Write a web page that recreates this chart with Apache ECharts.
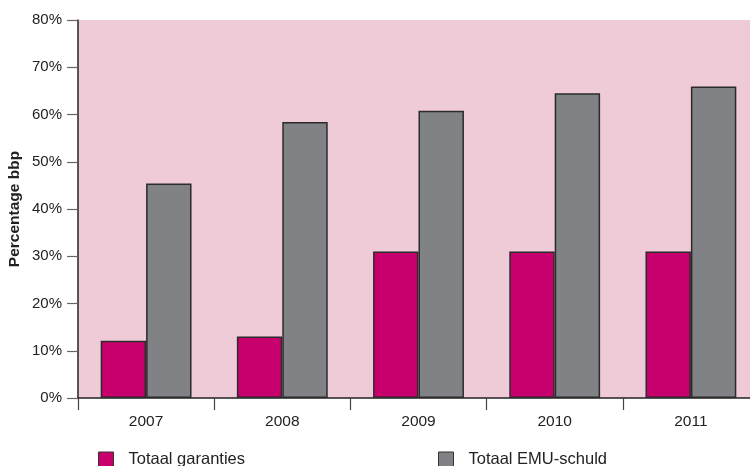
<!DOCTYPE html>
<html>
<head>
<meta charset="utf-8">
<script src="https://cdn.jsdelivr.net/npm/echarts@6/dist/echarts.min.js"></script>
<style>
  html, body { margin: 0; padding: 0; background: #ffffff; overflow: hidden; }
  #chart { width: 750px; height: 466px; }
</style>
</head>
<body>
<div id="chart"></div>
<script>
// Jaren op de categorie-as
const years = ['2007', '2008', '2009', '2010', '2011'];
// Totaal garanties, % bbp
const garanties = [12.1, 13.0, 31.0, 31.0, 31.0];
// Totaal EMU-schuld, % bbp
const emuSchuld = [45.4, 58.4, 60.8, 64.5, 65.9];
// Ticklabels van de y-as
const yTicks = [0, 10, 20, 30, 40, 50, 60, 70, 80];

const seriesNames = ['Totaal garanties', 'Totaal EMU-schuld'];
const pink = '#C8006E';
const grey = '#818286';
const border = '#2b2b2b';

const legendBase = {
  top: 451, padding: 0, icon: 'rect',
  itemWidth: 15, itemHeight: 15,
  itemStyle: { borderColor: '#333', borderWidth: 1 },
  textStyle: { fontSize: 16.5, color: '#222', padding: [0, 0, 0, 10] }
};

const chart = echarts.init(document.getElementById('chart'));
chart.setOption({
  animation: false,
  backgroundColor: '#ffffff',
  textStyle: { fontFamily: 'Liberation Sans, Arial, sans-serif' },
  grid: {
    left: 78, right: -9, top: 20, bottom: 68,
    containLabel: false,
    outerBoundsMode: 'none',
    show: true, backgroundColor: '#EFCAD7', borderWidth: 0
  },
  legend: [
    Object.assign({ data: [seriesNames[0]], left: 98 }, legendBase),
    Object.assign({ data: [seriesNames[1]], left: 438 }, legendBase)
  ],
  xAxis: {
    type: 'category',
    data: years,
    boundaryGap: true,
    axisLine: { lineStyle: { color: '#222', width: 1.5 } },
    axisTick: { show: true, length: 12, lineStyle: { color: '#444', width: 1.2 } },
    axisLabel: { fontSize: 15.5, color: '#222', margin: 16 }
  },
  yAxis: {
    type: 'value',
    min: yTicks[0],
    max: yTicks[yTicks.length - 1],
    interval: 10,
    name: 'Percentage bbp',
    nameLocation: 'middle',
    nameGap: 55,
    nameMoveOverlap: false,
    nameTextStyle: { fontSize: 15.5, fontWeight: 'bold', color: '#222' },
    axisLine: { show: true, lineStyle: { color: '#222', width: 1.5 } },
    axisTick: { show: true, length: 11, lineStyle: { color: '#666', width: 1.2 } },
    axisLabel: { fontSize: 15, color: '#222', margin: 16, formatter: v => v + '%' },
    splitLine: { show: false }
  },
  series: [
    {
      name: seriesNames[0], type: 'bar', data: garanties,
      barGap: '0%', barCategoryGap: '33.3%',
      itemStyle: { color: pink, borderColor: border, borderWidth: 1.5 }
    },
    {
      name: seriesNames[1], type: 'bar', data: emuSchuld,
      barGap: '0%', barCategoryGap: '33.3%',
      itemStyle: { color: grey, borderColor: border, borderWidth: 1.5 }
    }
  ]
});
</script>
</body>
</html>
